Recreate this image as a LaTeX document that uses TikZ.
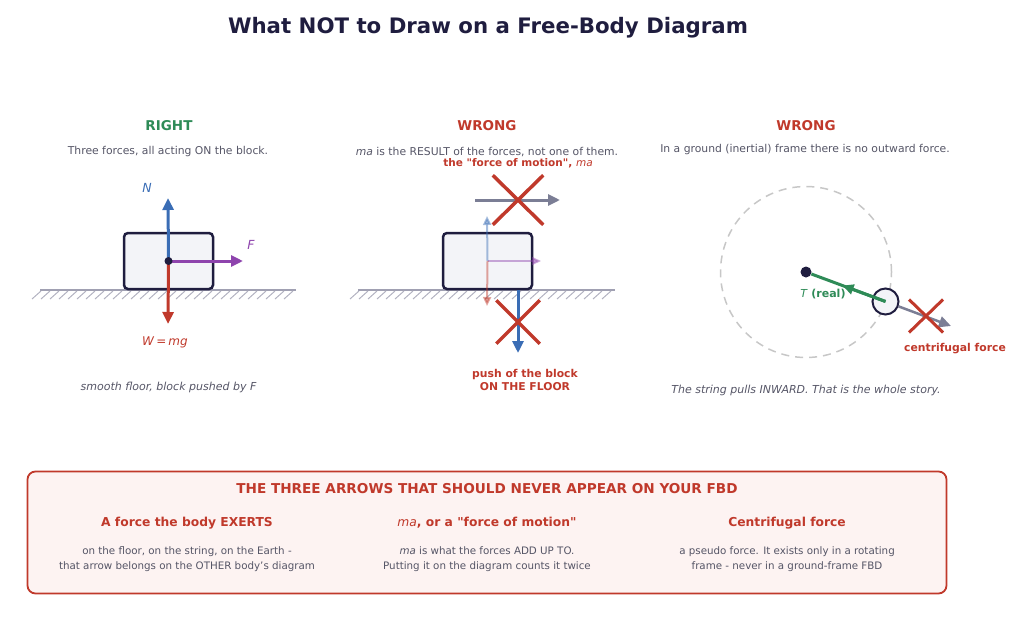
\documentclass[tikz,border=0pt]{standalone}
\usepackage{fontspec}
\setmainfont{DejaVu Sans}
\usetikzlibrary{arrows.meta,calc,shapes.misc}

\definecolor{inknavy}{HTML}{1F1D3F}
\definecolor{okgreen}{HTML}{2E8B57}
\definecolor{badred}{HTML}{C0392B}
\definecolor{normblue}{HTML}{3A6DB5}
\definecolor{pushpurple}{HTML}{8E44AD}
\definecolor{textgrey}{HTML}{555566}
\definecolor{fakegrey}{HTML}{7B7E95}
\definecolor{floorgrey}{HTML}{A0A0B2}
\definecolor{blockfill}{HTML}{F3F4F8}
\definecolor{boxfill}{HTML}{FDF3F2}

\begin{document}
\begin{tikzpicture}[
      x=1pt, y=-1pt,
      force/.style = {
        line width=3pt,
        -{Triangle[length=12pt,width=11pt]}
      },
      ghost/.style = {
        line width=2pt,
        opacity=0.45,
        -{Triangle[length=9pt,width=8pt]}
      },
      block/.style = {
        draw=inknavy,
        fill=blockfill,
        line width=2.5pt,
        rounded corners=4pt,
        minimum width=89pt,
        minimum height=56pt
      },
      dot/.style = {
        circle,
        fill=inknavy,
        inner sep=0pt,
        minimum size=8pt
      },
      nope/.style = {
        cross out,
        draw=badred,
        line width=3.5pt,
        inner sep=0pt
      },
      floor/.style = {
        draw=floorgrey,
        line width=2pt
      },
      hatch/.style = {
        draw=floorgrey!80,
        line width=1pt
      },
      head/.style = {
        font=\fontsize{13.5}{16}\selectfont\bfseries
      },
      sub/.style = {
        text=textgrey,
        font=\fontsize{10.8}{13}\selectfont
      },
      note/.style = {
        text=badred,
        align=center,
        font=\fontsize{10.8}{13}\selectfont\bfseries
      },
      colhead/.style = {
        text=badred,
        font=\fontsize{12.3}{14}\selectfont\bfseries
      },
      colbody/.style = {
        text=textgrey,
        align=center,
        font=\fontsize{10.3}{15}\selectfont
      }
    ]
    \useasboundingbox (0,0) rectangle (1024,616);

    % title
    \node[text=inknavy, font=\fontsize{21.3}{25}\selectfont\bfseries] (title) at (488,28)
      {What NOT to Draw on a Free-Body Diagram};

    % ---- right ----
    \node[head, text=okgreen] (headA) at (169,126) {RIGHT};
    \node[sub] (subA) at (168,152) {Three forces, all acting ON the block.};

    \draw[floor] (40,290) -- (296,290);
    \foreach \hx in {41,50,...,300} {
      \draw[hatch] (\hx,291) -- ++(-9,8);
    }
    \node[block] (blockA) at (168.5,261) {};
    \coordinate (tipN) at (168,198);
    \coordinate (tipF) at (243,261);
    \coordinate (tipW) at (168,324);
    \draw[force, normblue] (blockA.center) -- (tipN);
    \draw[force, pushpurple] (blockA.center) -- (tipF);
    \draw[force, badred] (blockA.center) -- (tipW);
    \node[dot] (cgA) at (blockA.center) {};
    \node[text=normblue, font=\fontsize{12.5}{14}\selectfont\itshape] (labN) at (147,188) {N};
    \node[text=pushpurple, font=\fontsize{12.5}{14}\selectfont\itshape] (labF) at (251,245) {F};
    \node[text=badred, font=\fontsize{12}{14}\selectfont] (labW) at (165,342)
      {\textit{W}\,=\,\textit{mg}};
    \node[sub, font=\fontsize{11}{13}\selectfont\itshape] (capA) at (168.5,387)
      {smooth floor, block pushed by F};

    % ---- wrong: ma ----
    \node[head, text=badred] (headB) at (487,126) {WRONG};
    \node[sub] (subB) at (487,152) {\textit{ma} is the RESULT of the forces, not one of them.};

    \draw[floor] (358,290) -- (615,290);
    \foreach \hx in {359,368,...,618} {
      \draw[hatch] (\hx,291) -- ++(-9,8);
    }
    \node[block] (blockB) at (487.5,261) {};
    \coordinate (ghostN) at (487,216);
    \coordinate (ghostF) at (541,261);
    \coordinate (ghostW) at (487,306);
    \draw[ghost, normblue] (blockB.center) -- (ghostN);
    \draw[ghost, pushpurple] (blockB.center) -- (ghostF);
    \draw[ghost, badred] (blockB.center) -- (ghostW);

    \coordinate (pushS) at (518,290);
    \coordinate (pushE) at (518,353);
    \draw[force, normblue] (pushS) -- (pushE);
    \node[nope, minimum width=40pt, minimum height=40pt] (xPush) at (518,322) {};
    \node[note] (labPush) at (525,380) {push of the block\\ON THE FLOOR};

    \coordinate (maS) at (475,200);
    \coordinate (maE) at (560,200);
    \draw[force, fakegrey] (maS) -- (maE);
    \node[nope, minimum width=47pt, minimum height=46pt] (xMa) at (518,200) {};
    \node[note, font=\fontsize{10.5}{13}\selectfont\bfseries] (labMa) at (518,163)
      {the \textquotedbl force of motion\textquotedbl, \textmd{\textit{ma}}};

    % ---- wrong: centrifugal ----
    \node[head, text=badred] (headC) at (806,126) {WRONG};
    \node[sub] (subC) at (805,150) {In a ground (inertial) frame there is no outward force.};

    \coordinate (orbC) at (806,272);
    \draw[draw=black!22, line width=1.5pt, dash pattern=on 8pt off 6pt]
      (orbC) circle[radius=85.5pt];
    \node[circle, draw=inknavy, fill=blockfill, line width=2pt, minimum size=26pt,
      inner sep=0pt] (ball) at (885.5,301.5) {};
    \node[dot, minimum size=11pt] (hub) at (orbC) {};
    \draw[okgreen, line width=3pt] (ball.center) -- (hub);
    \draw[okgreen, line width=3pt, -{Triangle[length=11pt,width=10pt]}]
      (ball.center) -- ($(ball.center)!0.54!(hub)$);
    \node[text=okgreen, font=\fontsize{11}{13}\selectfont] (labT) at (823,294)
      {\textit{T} \textbf{(real)}};
    \coordinate (cfE) at (951,326);
    \draw[force, fakegrey, line width=2.5pt] (ball) -- (cfE);
    \node[nope, line width=3pt, minimum width=31pt, minimum height=30pt] (xCf) at (926,316) {};
    \node[note] (labCf) at (955,349) {centrifugal force};
    \node[sub, font=\fontsize{11}{13}\selectfont\itshape] (capC) at (806,390)
      {The string pulls INWARD. That is the whole story.};

    % ---- summary box ----
    \node[draw=badred, fill=boxfill, line width=1.8pt, rounded corners=8pt,
      minimum width=919pt, minimum height=122pt] (warn) at (487,532.5) {};
    \node[text=badred, font=\fontsize{13.6}{16}\selectfont\bfseries] (warnT) at (487,489)
      {THE THREE ARROWS THAT SHOULD NEVER APPEAR ON YOUR FBD};
    \node[colhead] (colA) at (187,523) {A force the body EXERTS};
    \node[colhead] (colB) at (487,523)
      {\textmd{\textit{ma}}, or a \textquotedbl force of motion\textquotedbl};
    \node[colhead] (colC) at (787,523) {Centrifugal force};
    \node[colbody] (bodyA) at (187,559.5)
      {on the floor, on the string, on the Earth -\\that arrow belongs on the OTHER body's diagram};
    \node[colbody] (bodyB) at (487,559.5)
      {\textit{ma} is what the forces ADD UP TO.\\Putting it on the diagram counts it twice};
    \node[colbody] (bodyC) at (787,559.5)
      {a pseudo force. It exists only in a rotating\\frame - never in a ground-frame FBD};
  \end{tikzpicture}
\end{document}
